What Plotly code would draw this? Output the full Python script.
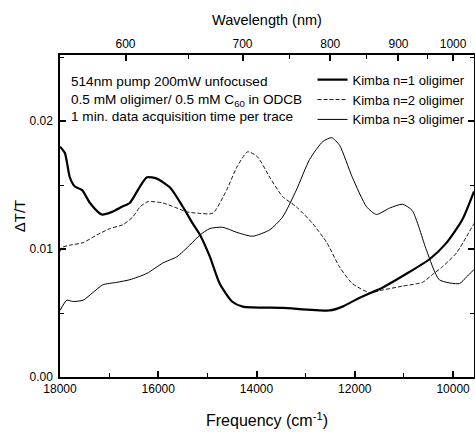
import plotly.graph_objects as go

# ---- data ----
freq_n1 = [18000, 17900, 17800, 17700, 17550, 17390, 17150, 16940, 16740, 16580, 16370, 16230,
           16030, 15760, 15500, 15300, 15150, 14950, 14750, 14500, 14280, 13470, 12510, 12250,
           11900, 11430, 10890, 10480, 10130, 9810, 9574]
val_n1 = [0.0180, 0.0175, 0.0156, 0.0149, 0.0146, 0.0136, 0.0127, 0.0129, 0.0133, 0.0136, 0.0149, 0.0156,
          0.0155, 0.0148, 0.0133, 0.0120, 0.0111, 0.0094, 0.0073, 0.0059, 0.0055, 0.0054, 0.0052, 0.0055,
          0.0062, 0.0070, 0.0082, 0.0092, 0.0105, 0.0123, 0.0145]

freq_n2 = [18000, 17970, 17800, 17530, 17250, 16980, 16720, 16520, 16370, 16210, 15910, 15620, 15420,
           15200, 14890, 14610, 14400, 14180, 13980, 13730, 13470, 13190, 12860, 12570, 12310, 12050,
           11700, 11430, 11030, 10620, 10420, 10220, 9930, 9574]
val_n2 = [0.0098, 0.0101, 0.0103, 0.0105, 0.0111, 0.0116, 0.0119, 0.0125, 0.0133, 0.0137, 0.0136, 0.0132, 0.0129,
          0.0128, 0.0128, 0.0146, 0.0164, 0.0176, 0.0172, 0.0156, 0.0141, 0.0133, 0.0120, 0.0105, 0.0086, 0.0073,
          0.0066, 0.0068, 0.0071, 0.0074, 0.0080, 0.0086, 0.0097, 0.0120]

freq_n3 = [18000, 17860, 17740, 17530, 17330, 17130, 16840, 16580, 16230, 15910, 15620, 15360, 15150,
           14950, 14690, 14400, 14080, 13730, 13470, 13190, 12920, 12650, 12470, 12310, 12050, 11760,
           11560, 11290, 11030, 10830, 10540, 10280, 9870, 9730, 9574]
val_n3 = [0.0052, 0.0060, 0.0059, 0.0060, 0.0066, 0.0072, 0.0074, 0.0076, 0.0081, 0.0089, 0.0094, 0.0103, 0.0111,
          0.0116, 0.0117, 0.0113, 0.0110, 0.0115, 0.0125, 0.0146, 0.0170, 0.0184, 0.0187, 0.0181, 0.0156, 0.0133,
          0.0127, 0.0132, 0.0135, 0.0130, 0.0099, 0.0076, 0.0073, 0.0078, 0.0084]

series_names = ["Kimba n=1 oligimer", "Kimba n=2 oligimer", "Kimba n=3 oligimer"]
freq_major = [18000, 16000, 14000, 12000, 10000]
freq_minor = [17000, 15000, 13000, 11000]
dt_major = [0, 0.01, 0.02]
dt_minor = [0.005, 0.015, 0.025]
wavelength_major = [600, 700, 800, 900, 1000]
wavelength_minor = [650, 750, 850, 950]
note_lines = ["514nm pump 200mW unfocused",
              "0.5 mM oligimer/ 0.5 mM C<sub>60</sub> in ODCB",
              "1 min. data acquisition time per trace"]

x_range = [18000, 9574]
y_range = [0, 0.02516]

FONT = "Liberation Sans, Arial, sans-serif"

fig = go.Figure()
styles = [dict(width=2.2, dash="solid"), dict(width=0.9, dash="4px,2px"), dict(width=1.0, dash="solid")]
for name, fx, vy, st in zip(series_names, [freq_n1, freq_n2, freq_n3], [val_n1, val_n2, val_n3], styles):
    fig.add_trace(go.Scatter(x=fx, y=vy, mode="lines", name=name,
                             line=dict(color="black", width=st["width"], dash=st["dash"],
                                       shape="spline", smoothing=0.6)))

# invisible trace to activate top wavelength axis
fig.add_trace(go.Scatter(x=[x_range[0]], y=[None], xaxis="x2", showlegend=False, hoverinfo="skip"))

tick_common = dict(showgrid=False, zeroline=False, showline=True, linecolor="black", linewidth=1.5,
                   ticks="inside", ticklen=6, tickwidth=1.5, tickcolor="black", tickfont=dict(size=12))
minor_common = dict(tickmode="array", ticks="inside", ticklen=4, tickwidth=1.2, tickcolor="black")

fig.update_layout(
    width=475, height=432,
    margin=dict(l=60, r=1, t=55, b=55, autoexpand=False),
    paper_bgcolor="white", plot_bgcolor="white",
    font=dict(family=FONT, color="black", size=12),
    showlegend=True,
    legend=dict(x=0.61, y=0.970, xanchor="left", yanchor="top", bgcolor="rgba(0,0,0,0)",
                font=dict(size=13, family=FONT), tracegroupgap=0, itemwidth=30),
    xaxis=dict(range=x_range, mirror=False, tickmode="array", tickvals=freq_major,
               ticktext=[str(v) for v in freq_major],
               minor=dict(tickvals=freq_minor, **minor_common),
               title=dict(text="Frequency (cm<sup>-1</sup>)", font=dict(size=16), standoff=20),
               **tick_common),
    xaxis2=dict(range=x_range, overlaying="x", side="top", tickmode="array",
                tickvals=[1e7 / w for w in wavelength_major], ticktext=[str(w) for w in wavelength_major],
                minor=dict(tickvals=[1e7 / w for w in wavelength_minor], **minor_common),
                title=dict(text="Wavelength (nm)", font=dict(size=14.5), standoff=8),
                **tick_common),
    yaxis=dict(range=y_range, mirror="ticks", tickmode="array", tickvals=dt_major,
               ticktext=["%.2f" % v for v in dt_major],
               minor=dict(tickvals=dt_minor, **minor_common),
               ticklabelstandoff=3,
               title=dict(text="ΔT/T", font=dict(size=15), standoff=0),
               **tick_common),
)

fig.add_annotation(xref="paper", yref="paper", x=0.022, y=0.946, xanchor="left", yanchor="top",
                   align="left", showarrow=False, text="<br>".join(note_lines),
                   font=dict(size=13.6, family=FONT, color="black"))

fig.write_html("out.html",
               config={"displayModeBar": False},
               post_script="document.body.style.margin='0';document.body.style.overflow='hidden';")
